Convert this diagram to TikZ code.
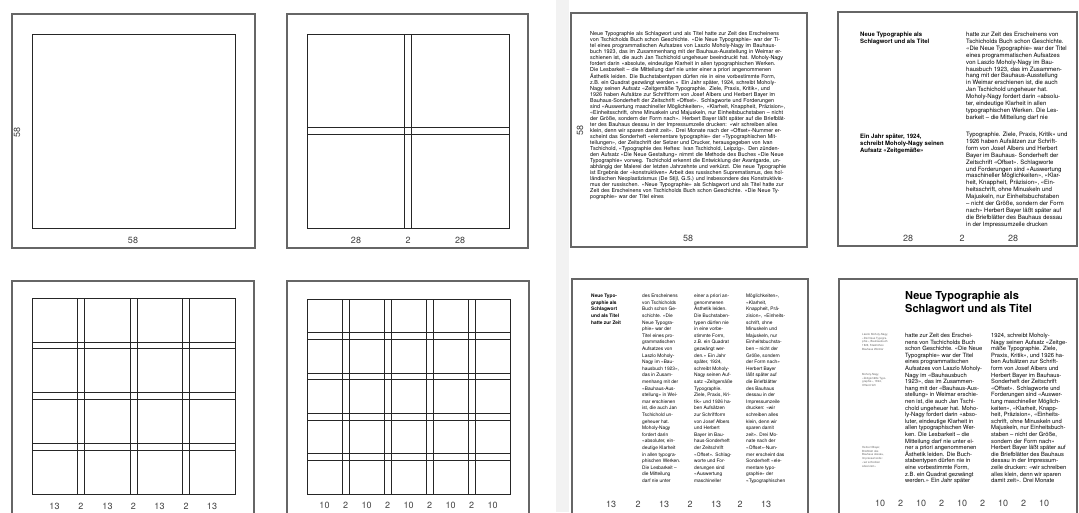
\documentclass[tikz,border=0pt]{standalone}
\usepackage{fontspec}
\setmainfont{TeX Gyre Heros}
\begin{document}
\begin{tikzpicture}[x=1pt,y=-1pt,
  frame/.style={draw=black!60, line width=1.1pt},
  gridline/.style={draw=black!85, line width=0.8pt},
  dim/.style={font=\fontsize{9}{9}\selectfont, text=black!75, inner sep=0pt},
  body/.style={inner sep=0pt, anchor=north west, align=left, text=black},
  bodyA/.style={body, font=\fontsize{5.4}{6.0}\selectfont, text width=197pt},
  bodyB/.style={body, font=\fontsize{6.0}{6.9}\selectfont},
  headB/.style={body, font=\bfseries\fontsize{6.0}{6.9}\selectfont},
  bodyC/.style={body, font=\fontsize{4.8}{6.6}\selectfont},
  headC/.style={body, font=\bfseries\fontsize{4.8}{6.6}\selectfont},
  bodyD/.style={body, font=\fontsize{5.8}{6.6}\selectfont},
  titleD/.style={body, font=\bfseries\fontsize{11}{13.5}\selectfont},
  noteD/.style={body, font=\fontsize{2.8}{3.8}\selectfont, text=black!60},
]
\useasboundingbox (0,0) rectangle (1079,512);
\clip (0,0) rectangle (1079,512);
\fill[black!5] (556,0) rectangle (569,512);

% ---------- panel 1 ----------
\draw[frame] (12,14) rectangle (255,248);
\draw[gridline] (32,34) rectangle (235,228);
\node[dim] (p1b) at (133,240) {58};
\node[dim, rotate=90] (p1l) at (17,132) {58};

% ---------- panel 2 ----------
\draw[frame] (287,14) rectangle (528,248);
\draw[gridline] (307,34) rectangle (509,228);
\draw[gridline] (404.5,34) -- (404.5,228) (411.5,34) -- (411.5,228)
  (307,127.7) -- (509,127.7) (307,134.4) -- (509,134.4);
\node[dim] (p2a) at (356,240) {28};
\node[dim] (p2b) at (408,240) {2};
\node[dim] (p2c) at (460,240) {28};

% ---------- panel 3 ----------
\draw[frame] (12,281) rectangle (254,520);
\draw[gridline] (32,298) rectangle (235,494);
\foreach \xx in {77.5,84.5,130,137,182.5,189.5} \draw[gridline] (\xx,298) -- (\xx,494);
\foreach \yy in {342,348.7,392.6,399.3,443.3,450} \draw[gridline] (32,\yy) -- (235,\yy);
\foreach \xx/\tt [count=\i] in {54.5/13,81/2,107.5/13,133.5/2,159.5/13,186/2,212/13}
  \node[dim] (p3l\i) at (\xx,506) {\tt};

% ---------- panel 4 ----------
\draw[frame] (287,281) rectangle (529,520);
\draw[gridline] (307,299) rectangle (510,494);
\foreach \xx in {342,349,384,391,426,433,468,475} \draw[gridline] (\xx,299) -- (\xx,494);
\foreach \yy in {332.6,339.3,373,379.6,413.2,420,453.6,460.3} \draw[gridline] (307,\yy) -- (510,\yy);
\foreach \xx/\tt [count=\i] in {324.5/10,345.5/2,366.5/10,387.5/2,408.5/10,429.5/2,450.5/10,471.5/2,492.5/10}
  \node[dim] (p4l\i) at (\xx,505) {\tt};

% ---------- panel 5 ----------
\draw[frame] (571,13) rectangle (807,247);
\node[bodyA] (p5t) at (590,31) {Neue Typographie als Schlagwort und als Titel hatte zur Zeit des Erscheinens von Tschicholds Buch schon Geschichte. «Die Neue Typographie» war der Titel eines programmatischen Aufsatzes von Laszlo Moholy-Nagy im Bauhausbuch 1923, das im Zusammenhang mit der Bauhaus-Ausstellung in Weimar erschienen ist, die auch Jan Tschichold ungeheuer beeindruckt hat. Moholy-Nagy fordert darin «absolute, eindeutige Klarheit in allen typographischen Werken. Die Lesbarkeit – die Mitteilung darf nie unter einer a priori angenommenen Ästhetik leiden. Die Buchstabentypen dürfen nie in eine vorbestimmte Form, z.B. ein Quadrat gezwängt werden.» Ein Jahr später, 1924, schreibt Moholy-Nagy seinen Aufsatz «Zeitgemäße Typographie. Ziele, Praxis, Kritik», und 1926 haben Aufsätze zur Schriftform von Josef Albers und Herbert Bayer im Bauhaus-Sonderheft der Zeitschrift «Offset». Schlagworte und Forderungen sind «Auswertung maschineller Möglichkeiten», «Klarheit, Knappheit, Präzision», «Einheitsschrift, ohne Minuskeln und Majuskeln, nur Einheitsbuchstaben – nicht der Größe, sondern der Form nach». Herbert Bayer läßt später auf die Briefblätter des Bauhaus dessau in der Impressumzeile drucken: «wir schreiben alles klein, denn wir sparen damit zeit». Drei Monate nach der «Offset»-Nummer erscheint das Sonderheft «elementare typographie» der «Typographischen Mitteilungen», der Zeitschrift der Setzer und Drucker, herausgegeben von Ivan Tschichold, «Typographie des Heftes: Ivan Tschichold, Leipzig». Den zündenden Aufsatz «Die Neue Gestaltung» nimmt die Methode des Buches «Die Neue Typographie» vorweg. Tschichold erkennt die Entwicklung der Avantgarde, unabhängig der Malerei der letzten Jahrzehnte und verkürzt. Die neue Typographie ist Ergebnis der «konstruktiven» Arbeit des russischen Suprematismus, des holländischen Neoplastizismus (De Stijl, G.S.) und insbesondere des Konstruktivismus der russischen. «Neue Typographie» als Schlagwort und als Titel hatte zur Zeit des Erscheinens von Tschicholds Buch schon Geschichte. «Die Neue Typographie» war der Titel eines};
\node[dim] (p5b) at (688,238) {58};
\node[dim, rotate=90] (p5l) at (580,130) {58};

% ---------- panel 6 ----------
\draw[frame] (838,12) rectangle (1077,246);
\node[headB] (p6h1) at (860,32) {Neue Typographie als\\Schlagwort und als Titel};
\node[bodyB] (p6c1) at (966,32) {hatte zur Zeit des Erscheinens von\\Tschicholds Buch schon Geschichte.\\«Die Neue Typographie» war der Titel\\eines programmatischen Aufsatzes\\von Laszlo Moholy-Nagy im Bau-\\hausbuch 1923, das im Zusammen-\\hang mit der Bauhaus-Ausstellung\\in Weimar erschienen ist, die auch\\Jan Tschichold ungeheuer hat.\\Moholy-Nagy fordert darin «absolu-\\ter, eindeutige Klarheit in allen\\typographischen Werken. Die Les-\\barkeit – die Mitteilung darf nie};
\node[headB] (p6h2) at (860,134) {Ein Jahr später, 1924,\\schreibt Moholy-Nagy seinen\\Aufsatz «Zeitgemäße»};
\node[bodyB] (p6c2) at (966,132) {Typographie. Ziele, Praxis, Kritik» und\\1926 haben Aufsätzen zur Schrift-\\form von Josef Albers und Herbert\\Bayer im Bauhaus- Sonderheft der\\Zeitschrift «Offset». Schlagworte\\und Forderungen sind «Auswertung\\maschineller Möglichkeiten», «Klar-\\heit, Knappheit, Präzision», «Ein-\\heitsschrift, ohne Minuskeln und\\Majuskeln, nur Einheitsbuchstaben\\– nicht der Größe, sondern der Form\\nach» Herbert Bayer läßt später auf\\die Briefblätter des Bauhaus dessau\\in der Impressumzeile drucken};
\node[dim] (p6a) at (908,238) {28};
\node[dim] (p6b) at (962,238) {2};
\node[dim] (p6c) at (1013,238) {28};

% ---------- panel 7 ----------
\draw[frame] (572,279) rectangle (808,520);
\node[headC] (p7h) at (591,294) {Neue Typo-\\graphie als\\Schlagwort\\und als Titel\\hatte zur Zeit};
\node[bodyC] (p7c2) at (642,294) {des Erscheinens\\von Tschicholds\\Buch schon Ge-\\schichte. «Die\\Neue Typogra-\\phie» war der\\Titel eines pro-\\grammatischen\\Aufsatzes von\\Laszlo Moholy-\\Nagy im «Bau-\\hausbuch 1923»,\\das in Zusam-\\menhang mit der\\«Bauhaus-Aus-\\stellung» in Wei-\\mar erschienen\\ist, die auch Jan\\Tschichold un-\\geheuer hat.\\Moholy-Nagy\\fordert darin\\«absoluter, ein-\\deutige Klarheit\\in allen typogra-\\phischen Werken.\\Die Lesbarkeit –\\die Mitteilung\\darf nie unter};
\node[bodyC] (p7c3) at (694,294) {einer a priori an-\\genommenen\\Ästhetik leiden.\\Die Buchstaben-\\typen dürfen nie\\in eine vorbe-\\stimmte Form,\\z.B. ein Quadrat\\gezwängt wer-\\den.» Ein Jahr\\später, 1924,\\schreibt Moholy-\\Nagy seinen Auf-\\satz «Zeitgemäße\\Typographie.\\Ziele, Praxis, Kri-\\tik» und 1926 ha-\\ben Aufsätzen\\zur Schriftform\\von Josef Albers\\und Herbert\\Bayer im Bau-\\haus-Sonderheft\\der Zeitschrift\\«Offset». Schlag-\\worte und For-\\derungen sind\\«Auswertung\\maschineller};
\node[bodyC] (p7c4) at (746,294) {Möglichkeiten»,\\«Klarheit,\\Knappheit, Prä-\\zision», «Einheits-\\schrift, ohne\\Minuskeln und\\Majuskeln, nur\\Einheitsbuchsta-\\ben – nicht der\\Größe, sondern\\der Form nach»\\Herbert Bayer\\läßt später auf\\die Briefblätter\\des Bauhaus\\dessau in der\\Impressumzeile\\drucken: «wir\\schreiben alles\\klein, denn wir\\sparen damit\\zeit». Drei Mo-\\nate nach der\\«Offset»-Num-\\mer erscheint das\\Sonderheft «ele-\\mentare typo-\\graphie» der\\«Typographischen};
\foreach \xx/\tt [count=\i] in {611/13,638/2,664/13,690/2,716/13,740/2,766/13}
  \node[dim] (p7l\i) at (\xx,504) {\tt};

% ---------- panel 8 ----------
\draw[frame] (839,279) rectangle (1077,520);
\node[titleD] (p8t) at (905,291) {Neue Typographie als\\Schlagwort und als Titel};
\node[noteD] (p8n1) at (862,333) {Laszlo Moholy-Nagy,\\«Die Neue Typogra-\\phie», Bauhausbuch\\1923, Staatliches\\Bauhaus Weimar};
\node[noteD] (p8n2) at (862,373) {Moholy-Nagy,\\«Zeitgemäße Typo-\\graphie», 1924,\\Offset-Heft};
\node[noteD] (p8n3) at (862,446) {Herbert Bayer,\\Briefblatt des\\Bauhaus dessau,\\Impressumzeile:\\«wir schreiben\\alles klein»};
\node[bodyD] (p8c1) at (905,333) {hatte zur Zeit des Erschei-\\nens von Tschicholds Buch\\schon Geschichte. «Die Neue\\Typographie» war der Titel\\eines programmatischen\\Aufsatzes von Laszlo Moholy-\\Nagy im «Bauhausbuch\\1923», das im Zusammen-\\hang mit der «Bauhaus-Aus-\\stellung» in Weimar erschie-\\nen ist, die auch Jan Tschi-\\chold ungeheuer hat. Moho-\\ly-Nagy fordert darin «abso-\\luter, eindeutige Klarheit in\\allen typographischen Wer-\\ken. Die Lesbarkeit – die\\Mitteilung darf nie unter ei-\\ner a priori angenommenen\\Ästhetik leiden. Die Buch-\\stabentypen dürfen nie in\\eine vorbestimmte Form,\\z.B. ein Quadrat gezwängt\\werden.» Ein Jahr später};
\node[bodyD] (p8c2) at (991,333) {1924, schreibt Moholy-\\Nagy seinen Aufsatz «Zeitge-\\mäße Typographie. Ziele,\\Praxis, Kritik», und 1926 ha-\\ben Aufsätzen zur Schrift-\\form von Josef Albers und\\Herbert Bayer im Bauhaus-\\Sonderheft der Zeitschrift\\«Offset». Schlagworte und\\Forderungen sind «Auswer-\\tung maschineller Möglich-\\keiten», «Klarheit, Knapp-\\heit, Präzision», «Einheits-\\schrift, ohne Minuskeln und\\Majuskeln, nur Einheitsbuch-\\staben – nicht der Größe,\\sondern der Form nach»\\Herbert Bayer läßt später auf\\die Briefblätter des Bauhaus\\dessau in der Impressum-\\zeile drucken: «wir schreiben\\alles klein, denn wir sparen\\damit zeit». Drei Monate};
\foreach \xx/\tt [count=\i] in {880/10,900.5/2,921/10,941.5/2,962/10,982.5/2,1003/10,1023.5/2,1044/10}
  \node[dim] (p8l\i) at (\xx,503) {\tt};
\end{tikzpicture}
\end{document}
